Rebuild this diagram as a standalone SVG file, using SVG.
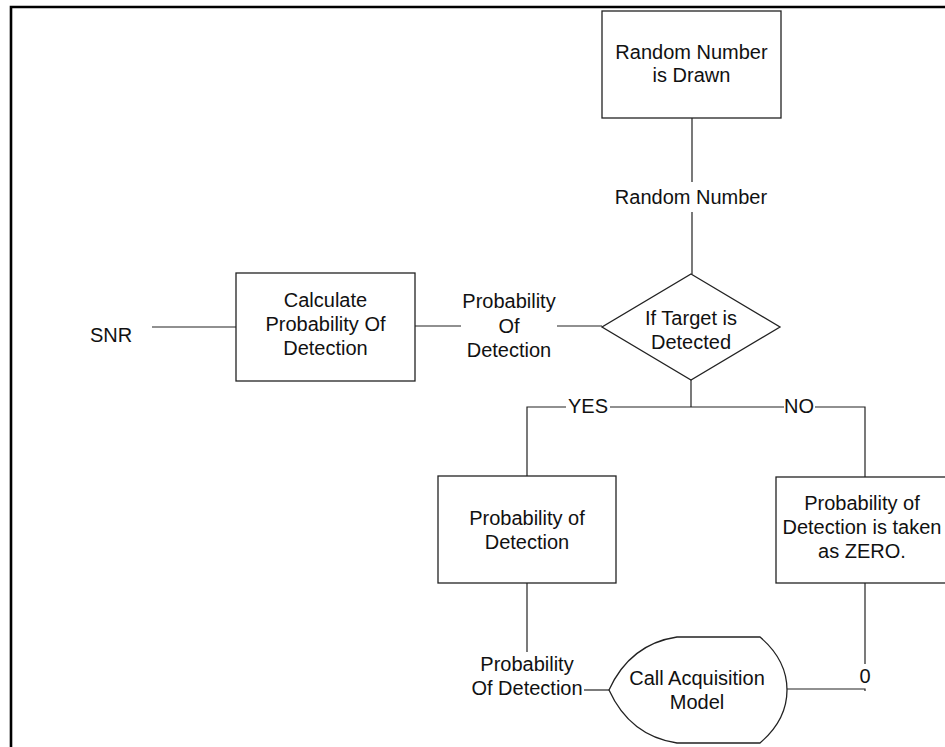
<svg xmlns="http://www.w3.org/2000/svg" width="945" height="747" viewBox="0 0 945 747">
  <style>
    text { font-family: "Liberation Sans", Arial, sans-serif; font-size: 20px; fill: #111; text-anchor: middle; }
    .shape { fill: #fff; stroke: #222; stroke-width: 1.3; }
    .wire { fill: none; stroke: #222; stroke-width: 1.2; }
    .frame { fill: none; stroke: #000; stroke-width: 2.6; }
  </style>

  <rect width="945" height="747" fill="#fff"/>

  <!-- page frame -->
  <path class="frame" d="M11 747 V7 H945"/>

  <!-- connectors -->
  <g id="connectors">
    <path class="wire" d="M692 118 V182 M692 212 V274"/>
    <path class="wire" d="M152 327 H236"/>
    <path class="wire" d="M415 326 H461 M557 326 H602"/>
    <path class="wire" d="M691 380 V407 M691 407 H610 M566 407 H527 V476"/>
    <path class="wire" d="M691 407 H784 M815 407 H865 V477"/>
    <path class="wire" d="M527 583 V652"/>
    <path class="wire" d="M584 690 H609"/>
    <path class="wire" d="M865 583 V664"/>
    <path class="wire" d="M787 689 H865 V691"/>
  </g>

  <!-- connector labels -->
  <g id="labels">
    <text x="691" y="204">Random Number</text>
    <text x="111" y="342">SNR</text>
    <text x="509" y="308">Probability</text>
    <text x="509" y="333">Of</text>
    <text x="509" y="357">Detection</text>
    <text x="588" y="413">YES</text>
    <text x="799" y="413">NO</text>
    <text x="527" y="671">Probability</text>
    <text x="527" y="695">Of Detection</text>
    <text x="865" y="683">0</text>
  </g>

  <g id="random-number-drawn">
    <rect class="shape" x="602" y="11" width="179" height="107"/>
    <text x="691.5" y="59">Random Number</text>
    <text x="691.5" y="82">is Drawn</text>
  </g>

  <g id="calculate-pd">
    <rect class="shape" x="236" y="273" width="179" height="108"/>
    <text x="325.5" y="307">Calculate</text>
    <text x="325.5" y="331">Probability Of</text>
    <text x="325.5" y="355">Detection</text>
  </g>

  <g id="target-detected">
    <polygon class="shape" points="691,274 780,327 691,380 602,327"/>
    <text x="691" y="325">If Target is</text>
    <text x="691" y="349">Detected</text>
  </g>

  <g id="pd-yes">
    <rect class="shape" x="438" y="476" width="178" height="107"/>
    <text x="527" y="525">Probability of</text>
    <text x="527" y="549">Detection</text>
  </g>

  <g id="pd-zero">
    <rect class="shape" x="776" y="477" width="180" height="106"/>
    <text x="862" y="510">Probability of</text>
    <text x="862" y="534">Detection is taken</text>
    <text x="862" y="558">as ZERO.</text>
  </g>

  <g id="call-acquisition">
    <path class="shape" d="M609 690 Q630 644 677 637 H760 Q787 660 787 690 Q787 720 760 743 H677 Q630 736 609 690 Z"/>
    <text x="697" y="685">Call Acquisition</text>
    <text x="697" y="709">Model</text>
  </g>
</svg>
